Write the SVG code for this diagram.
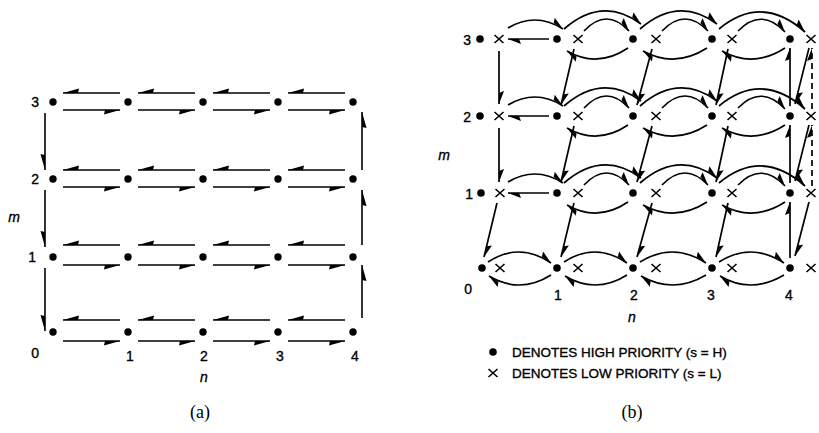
<svg xmlns="http://www.w3.org/2000/svg" xmlns:xlink="http://www.w3.org/1999/xlink" width="819" height="433" viewBox="0 0 819 433">
  <style>
    .ln { fill: none; stroke: #000; stroke-width: 1.6; }
    .ma { marker-end: url(#hA); }
    .mb { marker-end: url(#hB); stroke-width: 1.7; }
    .dash { stroke-dasharray: 6 4; }
    .dot { fill: #000; }
    .xm { fill: none; stroke: #000; stroke-width: 1.6; }
    .lbl { font-family: "Liberation Sans", Arial, sans-serif; font-size: 14px; fill: #000; stroke: #000; stroke-width: 0.35; }
    .it { font-style: italic; }
    .leg { font-family: "Liberation Sans", Arial, sans-serif; font-size: 13.5px; fill: #000; stroke: #000; stroke-width: 0.35; }
    .cap { font-family: "Liberation Serif", "Times New Roman", serif; font-size: 18px; fill: #000; }
  </style>
  <defs>
    <!-- half arrowheads: barb on the right / left of the travel direction -->
    <marker id="hA" markerUnits="userSpaceOnUse" viewBox="-18 -6 20 12" markerWidth="20" markerHeight="12" refX="0" refY="0" orient="auto" overflow="visible">
      <path d="M0,0 L-16,4.5 L-15,0 Z" fill="#000"/>
    </marker>
    <marker id="hB" markerUnits="userSpaceOnUse" viewBox="-18 -6 20 12" markerWidth="20" markerHeight="12" refX="0" refY="0" orient="auto" overflow="visible">
      <path d="M0,0 L-13,-5 L-11,0 Z" fill="#000"/>
    </marker>
    <path id="xg" class="xm" d="M-4.5,-4 L4.5,4 M-4.5,4 L4.5,-4"/>
  </defs>

  <!-- ============ (a) ============ -->
  <g id="a-edges">
    <!-- m = 3 -->
    <path class="ln ma" d="M120 93H63"/><path class="ln ma" d="M195 93H138"/><path class="ln ma" d="M270 93H213"/><path class="ln ma" d="M345 93H288"/>
    <path class="ln ma" d="M63 110H120"/><path class="ln ma" d="M138 110H195"/><path class="ln ma" d="M213 110H270"/><path class="ln ma" d="M288 110H345"/>
    <!-- m = 2 -->
    <path class="ln ma" d="M120 170H63"/><path class="ln ma" d="M195 170H138"/><path class="ln ma" d="M270 170H213"/><path class="ln ma" d="M345 170H288"/>
    <path class="ln ma" d="M63 187H120"/><path class="ln ma" d="M138 187H195"/><path class="ln ma" d="M213 187H270"/><path class="ln ma" d="M288 187H345"/>
    <!-- m = 1 -->
    <path class="ln ma" d="M120 245H63"/><path class="ln ma" d="M195 245H138"/><path class="ln ma" d="M270 245H213"/><path class="ln ma" d="M345 245H288"/>
    <path class="ln ma" d="M63 265H120"/><path class="ln ma" d="M138 265H195"/><path class="ln ma" d="M213 265H270"/><path class="ln ma" d="M288 265H345"/>
    <!-- m = 0 -->
    <path class="ln ma" d="M120 320H63"/><path class="ln ma" d="M195 320H138"/><path class="ln ma" d="M270 320H213"/><path class="ln ma" d="M345 320H288"/>
    <path class="ln ma" d="M63 341H120"/><path class="ln ma" d="M138 341H195"/><path class="ln ma" d="M213 341H270"/><path class="ln ma" d="M288 341H345"/>
    <!-- left column, downward -->
    <path class="ln ma" d="M45 113V170"/><path class="ln ma" d="M45 190V247"/><path class="ln ma" d="M45 268V331"/>
    <!-- right column, upward -->
    <path class="ln ma" d="M362 170V112"/><path class="ln ma" d="M362 245V190"/><path class="ln ma" d="M362 318V265"/>
  </g>

  <g id="a-nodes">
    <g id="a-3-0"><circle class="dot" cx="53" cy="102" r="3.7"/></g>
    <g id="a-3-1"><circle class="dot" cx="128" cy="102" r="3.7"/></g>
    <g id="a-3-2"><circle class="dot" cx="203" cy="102" r="3.7"/></g>
    <g id="a-3-3"><circle class="dot" cx="278" cy="102" r="3.7"/></g>
    <g id="a-3-4"><circle class="dot" cx="353" cy="102" r="3.7"/></g>
    <g id="a-2-0"><circle class="dot" cx="53" cy="179" r="3.7"/></g>
    <g id="a-2-1"><circle class="dot" cx="128" cy="179" r="3.7"/></g>
    <g id="a-2-2"><circle class="dot" cx="203" cy="179" r="3.7"/></g>
    <g id="a-2-3"><circle class="dot" cx="278" cy="179" r="3.7"/></g>
    <g id="a-2-4"><circle class="dot" cx="353" cy="179" r="3.7"/></g>
    <g id="a-1-0"><circle class="dot" cx="53" cy="257" r="3.7"/></g>
    <g id="a-1-1"><circle class="dot" cx="128" cy="257" r="3.7"/></g>
    <g id="a-1-2"><circle class="dot" cx="203" cy="257" r="3.7"/></g>
    <g id="a-1-3"><circle class="dot" cx="278" cy="257" r="3.7"/></g>
    <g id="a-1-4"><circle class="dot" cx="353" cy="257" r="3.7"/></g>
    <g id="a-0-0"><circle class="dot" cx="53" cy="332" r="3.7"/></g>
    <g id="a-0-1"><circle class="dot" cx="128" cy="332" r="3.7"/></g>
    <g id="a-0-2"><circle class="dot" cx="203" cy="332" r="3.7"/></g>
    <g id="a-0-3"><circle class="dot" cx="278" cy="332" r="3.7"/></g>
    <g id="a-0-4"><circle class="dot" cx="353" cy="332" r="3.7"/></g>
  </g>

  <g id="a-labels">
    <text class="lbl" x="39" y="107" text-anchor="end">3</text>
    <text class="lbl" x="39" y="184" text-anchor="end">2</text>
    <text class="lbl" x="36" y="262" text-anchor="end">1</text>
    <text class="lbl" x="39" y="358" text-anchor="end">0</text>
    <text class="lbl it" x="14" y="222" text-anchor="middle">m</text>
    <text class="lbl" x="130" y="361" text-anchor="middle">1</text>
    <text class="lbl" x="204" y="361" text-anchor="middle">2</text>
    <text class="lbl" x="280" y="361" text-anchor="middle">3</text>
    <text class="lbl" x="355" y="361" text-anchor="middle">4</text>
    <text class="lbl it" x="204" y="382" text-anchor="middle">n</text>
    <text class="cap" x="200" y="418" text-anchor="middle">(a)</text>
  </g>

  <!-- ============ (b) ============ -->
  <g id="b-edges">
    <!-- m = 3 -->
    <path class="ln mb" d="M549 39H508"/>
    <path class="ln mb" d="M508 28Q535.5 11.5 563 29"/>
    <path class="ln mb" d="M584 31Q606.5 7 629 31"/>
    <path class="ln mb" d="M662 31Q685 7 708 31"/>
    <path class="ln mb" d="M738 31Q761.5 7 785 32"/>
    <path class="ln mb" d="M564 29Q602.5 -4.5 641 24"/>
    <path class="ln mb" d="M640 29Q678.5 -4.5 717 24"/>
    <path class="ln mb" d="M719 29Q762 -6.5 805 32"/>
    <path class="ln mb" d="M628 48Q597.5 68.5 567 51"/>
    <path class="ln mb" d="M707 48Q675 68.5 643 51"/>
    <path class="ln mb" d="M785 48Q753.5 68.5 722 51"/>
    <path class="ln mb" d="M499 51V104"/>
    <path class="ln mb" d="M574 49L561 105"/>
    <path class="ln mb" d="M652 49L637 105"/>
    <path class="ln mb" d="M728 49L716 105"/>
    <path class="ln mb" d="M790 106V48"/>
    <path class="ln mb" d="M809 48L795 104"/>
    <path class="ln mb dash" d="M812 109V48"/>
    <!-- m = 2 -->
    <path class="ln mb" d="M549 116H508"/>
    <path class="ln mb" d="M508 105Q535.5 88.5 563 106"/>
    <path class="ln mb" d="M584 108Q606.5 84 629 108"/>
    <path class="ln mb" d="M662 108Q685 84 708 108"/>
    <path class="ln mb" d="M738 108Q761.5 84 785 109"/>
    <path class="ln mb" d="M564 106Q602.5 72.5 641 101"/>
    <path class="ln mb" d="M640 106Q678.5 72.5 717 101"/>
    <path class="ln mb" d="M719 106Q762 70.5 805 109"/>
    <path class="ln mb" d="M628 125Q597.5 145.5 567 128"/>
    <path class="ln mb" d="M707 125Q675 145.5 643 128"/>
    <path class="ln mb" d="M785 125Q753.5 145.5 722 128"/>
    <path class="ln mb" d="M499 128V182"/>
    <path class="ln mb" d="M574 126L561 182"/>
    <path class="ln mb" d="M652 126L637 182"/>
    <path class="ln mb" d="M728 126L716 182"/>
    <path class="ln mb" d="M790 183V125"/>
    <path class="ln mb" d="M809 125L795 181"/>
    <path class="ln mb dash" d="M812 186V125"/>
    <!-- m = 1 -->
    <path class="ln mb" d="M549 193H508"/>
    <path class="ln mb" d="M508 182Q535.5 165.5 563 183"/>
    <path class="ln mb" d="M584 185Q606.5 161 629 185"/>
    <path class="ln mb" d="M662 185Q685 161 708 185"/>
    <path class="ln mb" d="M738 185Q761.5 161 785 186"/>
    <path class="ln mb" d="M564 183Q602.5 149.5 641 178"/>
    <path class="ln mb" d="M640 183Q678.5 149.5 717 178"/>
    <path class="ln mb" d="M719 183Q762 147.5 805 186"/>
    <path class="ln mb" d="M628 202Q597.5 222.5 567 205"/>
    <path class="ln mb" d="M707 202Q675 222.5 643 205"/>
    <path class="ln mb" d="M785 202Q753.5 222.5 722 205"/>
    <path class="ln mb" d="M497 203L484 257"/>
    <path class="ln mb" d="M574 203L561 257"/>
    <path class="ln mb" d="M652 203L637 257"/>
    <path class="ln mb" d="M728 203L716 257"/>
    <path class="ln mb" d="M790 258V202"/>
    <path class="ln mb" d="M809 202L795 256"/>
    <!-- m = 0 -->
    <path class="ln mb" d="M488 262Q519.5 241.5 551 263"/>
    <path class="ln mb" d="M564 262Q595.5 241.5 627 263"/>
    <path class="ln mb" d="M640 262Q673 241.5 706 263"/>
    <path class="ln mb" d="M719 262Q751.5 241.5 784 263"/>
    <path class="ln mb" d="M551 275Q520 294.5 489 276"/>
    <path class="ln mb" d="M627 275Q596 294.5 565 276"/>
    <path class="ln mb" d="M706 275Q673.5 294.5 641 276"/>
    <path class="ln mb" d="M784 275Q751 294.5 720 276"/>
  </g>

  <g id="b-nodes">
    <g id="b-3-0"><circle class="dot" cx="480" cy="39" r="3.8"/><use xlink:href="#xg" href="#xg" x="499" y="39"/></g>
    <g id="b-3-1"><circle class="dot" cx="557" cy="39" r="3.8"/><use xlink:href="#xg" href="#xg" x="578" y="39"/></g>
    <g id="b-3-2"><circle class="dot" cx="633" cy="39" r="3.8"/><use xlink:href="#xg" href="#xg" x="656" y="39"/></g>
    <g id="b-3-3"><circle class="dot" cx="712" cy="39" r="3.8"/><use xlink:href="#xg" href="#xg" x="732" y="39"/></g>
    <g id="b-3-4"><circle class="dot" cx="790" cy="39" r="3.8"/><use xlink:href="#xg" href="#xg" x="811" y="39"/></g>
    <g id="b-2-0"><circle class="dot" cx="480" cy="116" r="3.8"/><use xlink:href="#xg" href="#xg" x="499" y="116"/></g>
    <g id="b-2-1"><circle class="dot" cx="557" cy="116" r="3.8"/><use xlink:href="#xg" href="#xg" x="578" y="116"/></g>
    <g id="b-2-2"><circle class="dot" cx="633" cy="116" r="3.8"/><use xlink:href="#xg" href="#xg" x="656" y="116"/></g>
    <g id="b-2-3"><circle class="dot" cx="712" cy="116" r="3.8"/><use xlink:href="#xg" href="#xg" x="732" y="116"/></g>
    <g id="b-2-4"><circle class="dot" cx="790" cy="116" r="3.8"/><use xlink:href="#xg" href="#xg" x="811" y="116"/></g>
    <g id="b-1-0"><circle class="dot" cx="481" cy="193" r="3.8"/><use xlink:href="#xg" href="#xg" x="500" y="193"/></g>
    <g id="b-1-1"><circle class="dot" cx="557" cy="193" r="3.8"/><use xlink:href="#xg" href="#xg" x="578" y="193"/></g>
    <g id="b-1-2"><circle class="dot" cx="633" cy="193" r="3.8"/><use xlink:href="#xg" href="#xg" x="656" y="193"/></g>
    <g id="b-1-3"><circle class="dot" cx="712" cy="193" r="3.8"/><use xlink:href="#xg" href="#xg" x="732" y="193"/></g>
    <g id="b-1-4"><circle class="dot" cx="790" cy="193" r="3.8"/><use xlink:href="#xg" href="#xg" x="811" y="193"/></g>
    <g id="b-0-0"><circle class="dot" cx="482" cy="268" r="3.8"/><use xlink:href="#xg" href="#xg" x="500" y="268"/></g>
    <g id="b-0-1"><circle class="dot" cx="557" cy="268" r="3.8"/><use xlink:href="#xg" href="#xg" x="578" y="268"/></g>
    <g id="b-0-2"><circle class="dot" cx="633" cy="268" r="3.8"/><use xlink:href="#xg" href="#xg" x="656" y="268"/></g>
    <g id="b-0-3"><circle class="dot" cx="712" cy="268" r="3.8"/><use xlink:href="#xg" href="#xg" x="732" y="268"/></g>
    <g id="b-0-4"><circle class="dot" cx="790" cy="268" r="3.8"/><use xlink:href="#xg" href="#xg" x="811" y="268"/></g>
  </g>

  <g id="b-labels">
    <text class="lbl" x="471" y="45" text-anchor="end">3</text>
    <text class="lbl" x="471" y="122" text-anchor="end">2</text>
    <text class="lbl" x="473" y="199" text-anchor="end">1</text>
    <text class="lbl" x="472" y="294" text-anchor="end">0</text>
    <text class="lbl it" x="444" y="160" text-anchor="middle">m</text>
    <text class="lbl" x="558" y="300" text-anchor="middle">1</text>
    <text class="lbl" x="634" y="300" text-anchor="middle">2</text>
    <text class="lbl" x="711" y="300" text-anchor="middle">3</text>
    <text class="lbl" x="789" y="300" text-anchor="middle">4</text>
    <text class="lbl it" x="632" y="322" text-anchor="middle">n</text>
    <text class="cap" x="632" y="418" text-anchor="middle">(b)</text>
  </g>

  <g id="legend">
    <circle class="dot" cx="493" cy="352" r="3.8"/>
    <text class="leg" x="512" y="357">DENOTES HIGH PRIORITY (s = H)</text>
    <use xlink:href="#xg" href="#xg" x="493" y="373"/>
    <text class="leg" x="512" y="378">DENOTES LOW PRIORITY (s = L)</text>
  </g>
</svg>
